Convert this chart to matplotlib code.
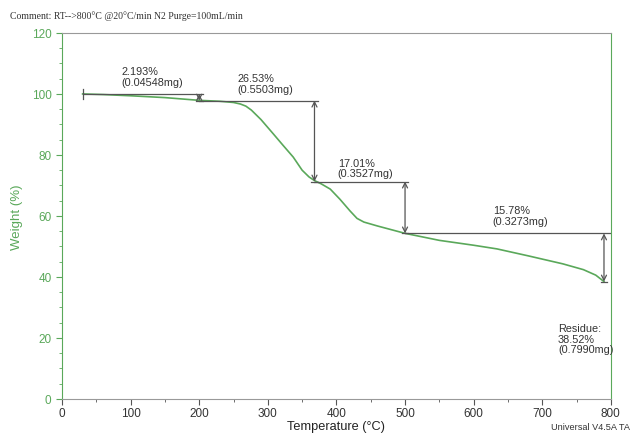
import matplotlib.pyplot as plt
import numpy as np
from matplotlib.ticker import MultipleLocator

# curva TGA (temperatura en °C, peso en %)
temperatura = [30, 60, 100, 150, 200, 230, 250, 260, 268, 276, 290, 308, 322, 337,
               350, 360, 368, 378, 391, 405, 420, 430, 440, 460, 500,
               550, 600, 634, 680, 730, 760, 778, 790]
peso = [100.0, 99.8, 99.4, 98.8, 97.9, 97.6, 97.2, 96.7, 96.0, 94.7, 91.6, 86.9, 83.2, 79.3,
        75.0, 72.8, 71.6, 70.5, 68.8, 65.5, 61.6, 59.2, 58.0, 56.7, 54.3,
        52.0, 50.4, 49.2, 46.9, 44.3, 42.4, 40.6, 38.5]

# pasos de pérdida: (x inicio, x fin, nivel superior, nivel inferior)
paso_x0 = [30, 200, 368, 500]
paso_x1 = [200, 368, 500, 790]
paso_sup = [100.0, 97.81, 71.28, 54.27]
paso_inf = [97.81, 71.28, 54.27, 38.49]
paso_txt = ["2.193%\n(0.04548mg)", "26.53%\n(0.5503mg)",
            "17.01%\n(0.3527mg)", "15.78%\n(0.3273mg)"]
txt_x = [87, 256, 402, 628]
txt_y = [109, 106.8, 79.0, 63.5]

verde = '#5aa85a'
gris = '#555555'

plt.rcParams['font.family'] = ['Liberation Sans', 'DejaVu Sans']
fig = plt.figure(figsize=(6.33, 4.35), dpi=100)
ax = fig.add_axes([0.098, 0.0805, 0.867, 0.8415])

ax.plot(temperatura, peso, color=verde, lw=1.2)

for i in range(4):
    x0, x1, y0, y1 = paso_x0[i], paso_x1[i], paso_sup[i], paso_inf[i]
    x_fin = 800 if i == 3 else x1 + 5
    ax.plot([x0, x_fin], [y0, y0], color=gris, lw=0.9)
    ax.plot([x1 - 5, x1 + 5], [y1, y1], color=gris, lw=0.9)
    ax.annotate('', xy=(x1, y1), xytext=(x1, y0),
                arrowprops=dict(arrowstyle='<->', color=gris, lw=0.9,
                                shrinkA=0, shrinkB=0, mutation_scale=9))
    ax.text(txt_x[i], txt_y[i], paso_txt[i], fontsize=7.8, color='#333333',
            va='top', ha='left', linespacing=1.05)
# marca inicial
ax.plot([30, 30], [98.5, 101.5], color=gris, lw=0.9)

ax.text(723, 24.8, "Residue:\n38.52%\n(0.7990mg)", fontsize=7.8, color='#333333',
        va='top', ha='left', linespacing=1.05)

ax.set_xlim(0, 800)
ax.set_ylim(0, 120)
ax.xaxis.set_major_locator(MultipleLocator(100))
ax.xaxis.set_minor_locator(MultipleLocator(50))
ax.yaxis.set_major_locator(MultipleLocator(20))
ax.yaxis.set_minor_locator(MultipleLocator(5))
ax.tick_params(axis='x', which='both', colors=gris, labelcolor='#333333', labelsize=8.5, pad=2)
ax.tick_params(axis='y', which='both', colors=verde, labelcolor=verde, labelsize=8.5)
ax.tick_params(which='major', length=4)
ax.tick_params(which='minor', length=2.5)

ax.spines['left'].set_color(verde)
ax.spines['right'].set_color(verde)
ax.spines['top'].set_color('#999999')
ax.spines['bottom'].set_color('#999999')

ax.set_xlabel("Temperature (°C)", fontsize=9.2, color='#222222')
ax.xaxis.set_label_coords(0.5, -0.058)
ax.set_ylabel("Weight (%)", fontsize=9.5, color=verde, labelpad=6)

fig.text(0.016, 0.962, "Comment: RT-->800°C @20°C/min N2 Purge=100mL/min",
         fontsize=7, family='Liberation Serif', color='#333333', va='center')
fig.text(0.996, 0.017, "Universal V4.5A TA", fontsize=6.6,
         color='#333333', va='center', ha='right')

fig.savefig('out.png', dpi=100)
